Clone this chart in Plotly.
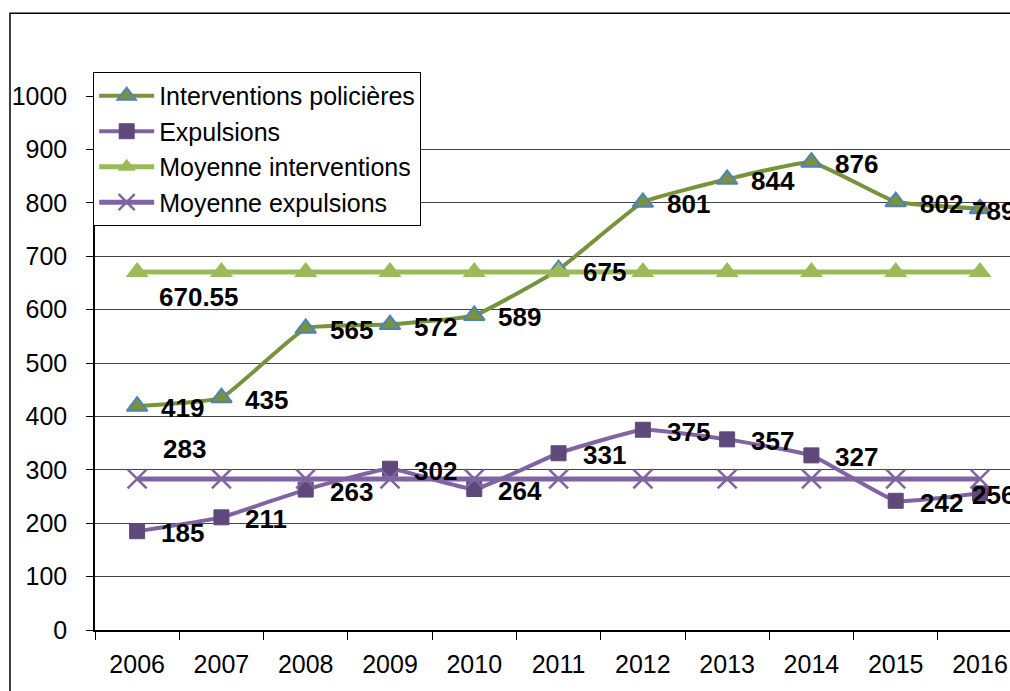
import plotly.graph_objects as go

years = ["2006", "2007", "2008", "2009", "2010", "2011", "2012", "2013", "2014", "2015", "2016"]
interventions = [419, 435, 565, 572, 589, 675, 801, 844, 876, 802, 789]
expulsions = [185, 211, 263, 302, 264, 331, 375, 357, 327, 242, 256]
moy_interventions = [670.55] * 11
moy_expulsions = [283] * 11
y_ticks = [0, 100, 200, 300, 400, 500, 600, 700, 800, 900, 1000]

x = list(range(len(years)))

fig = go.Figure()
fig.add_trace(go.Scatter(
    x=x, y=interventions, name="Interventions policières", mode="lines+markers",
    line=dict(color="#77933C", width=4, shape="spline", smoothing=0.35),
    marker=dict(symbol="triangle-up", size=18, color="#77933C", line=dict(color="#4F81BD", width=2)),
))
fig.add_trace(go.Scatter(
    x=x, y=expulsions, name="Expulsions", mode="lines+markers",
    line=dict(color="#8064A2", width=4, shape="spline", smoothing=0.35),
    marker=dict(symbol="square", size=15, color="#5F497A", line=dict(color="#5F497A", width=1)),
))
fig.add_trace(go.Scatter(
    x=x, y=moy_interventions, name="Moyenne interventions", mode="lines+markers",
    line=dict(color="#9BBB59", width=5),
    marker=dict(symbol="triangle-up", size=20, color="#9BBB59"),
))
fig.add_trace(go.Scatter(
    x=x, y=moy_expulsions, name="Moyenne expulsions", mode="lines+markers",
    line=dict(color="#8064A2", width=5),
    marker=dict(symbol="x-thin", size=19, color="#8064A2", line=dict(color="#8064A2", width=2.5)),
))

label_font = dict(family="Liberation Sans, Arial", size=26, color="black", weight="bold")
annotations = []
n = len(years)
for series in (interventions, expulsions):
    for i, v in enumerate(series):
        shift = 22 if i < n - 1 else -10
        annotations.append(dict(
            x=x[i], y=v, text=str(v), showarrow=False, xanchor="left", yanchor="middle",
            xshift=shift, yshift=-2, font=label_font,
        ))
annotations.append(dict(x=x[0], y=moy_interventions[0], text=f"{moy_interventions[0]:.2f}",
                        showarrow=False, xanchor="left", yanchor="middle",
                        xshift=20, yshift=-25, font=label_font))
annotations.append(dict(x=x[0], y=moy_expulsions[0], text=str(moy_expulsions[0]),
                        showarrow=False, xanchor="left", yanchor="middle",
                        xshift=24, yshift=30, font=label_font))

fig.update_layout(
    width=1010, height=691,
    margin=dict(l=95, r=0, t=96, b=61),
    paper_bgcolor="white", plot_bgcolor="white",
    font=dict(family="Liberation Sans, Arial", size=25, color="black"),
    showlegend=True,
    legend=dict(
        x=-0.002, y=1.045, xanchor="left", yanchor="top",
        bgcolor="white", bordercolor="black", borderwidth=1,
        font=dict(size=25), itemwidth=55, tracegroupgap=0,
    ),
    annotations=annotations,
    shapes=[dict(type="rect", xref="paper", yref="paper",
                 x0=-0.0929, x1=1.2, y0=-0.3, y1=1.155,
                 line=dict(color="black", width=1.5), fillcolor="rgba(0,0,0,0)", layer="below")],
)
fig.update_xaxes(
    range=[-0.5, 10.356], tickvals=x, ticktext=years, ticks="",
    showline=True, linecolor="black", linewidth=1.5, showgrid=False, zeroline=False,
    ticklabelstandoff=11, tickfont=dict(size=25),
    minor=dict(tickmode="linear", tick0=-0.5, dtick=1, ticks="outside", ticklen=8,
               tickcolor="black", tickwidth=1, showgrid=False),
)
fig.update_yaxes(
    range=[0, 1000], tickvals=y_ticks, ticks="outside", ticklen=7, tickcolor="black",
    showline=True, linecolor="black", linewidth=1.5, showgrid=True, gridcolor="#444444",
    gridwidth=1, zeroline=False, ticklabelstandoff=14, tickfont=dict(size=25),
)

fig.write_html(
    "out.html",
    config={"displayModeBar": False},
    post_script="document.body.style.margin='0';document.body.style.overflow='hidden';",
)
